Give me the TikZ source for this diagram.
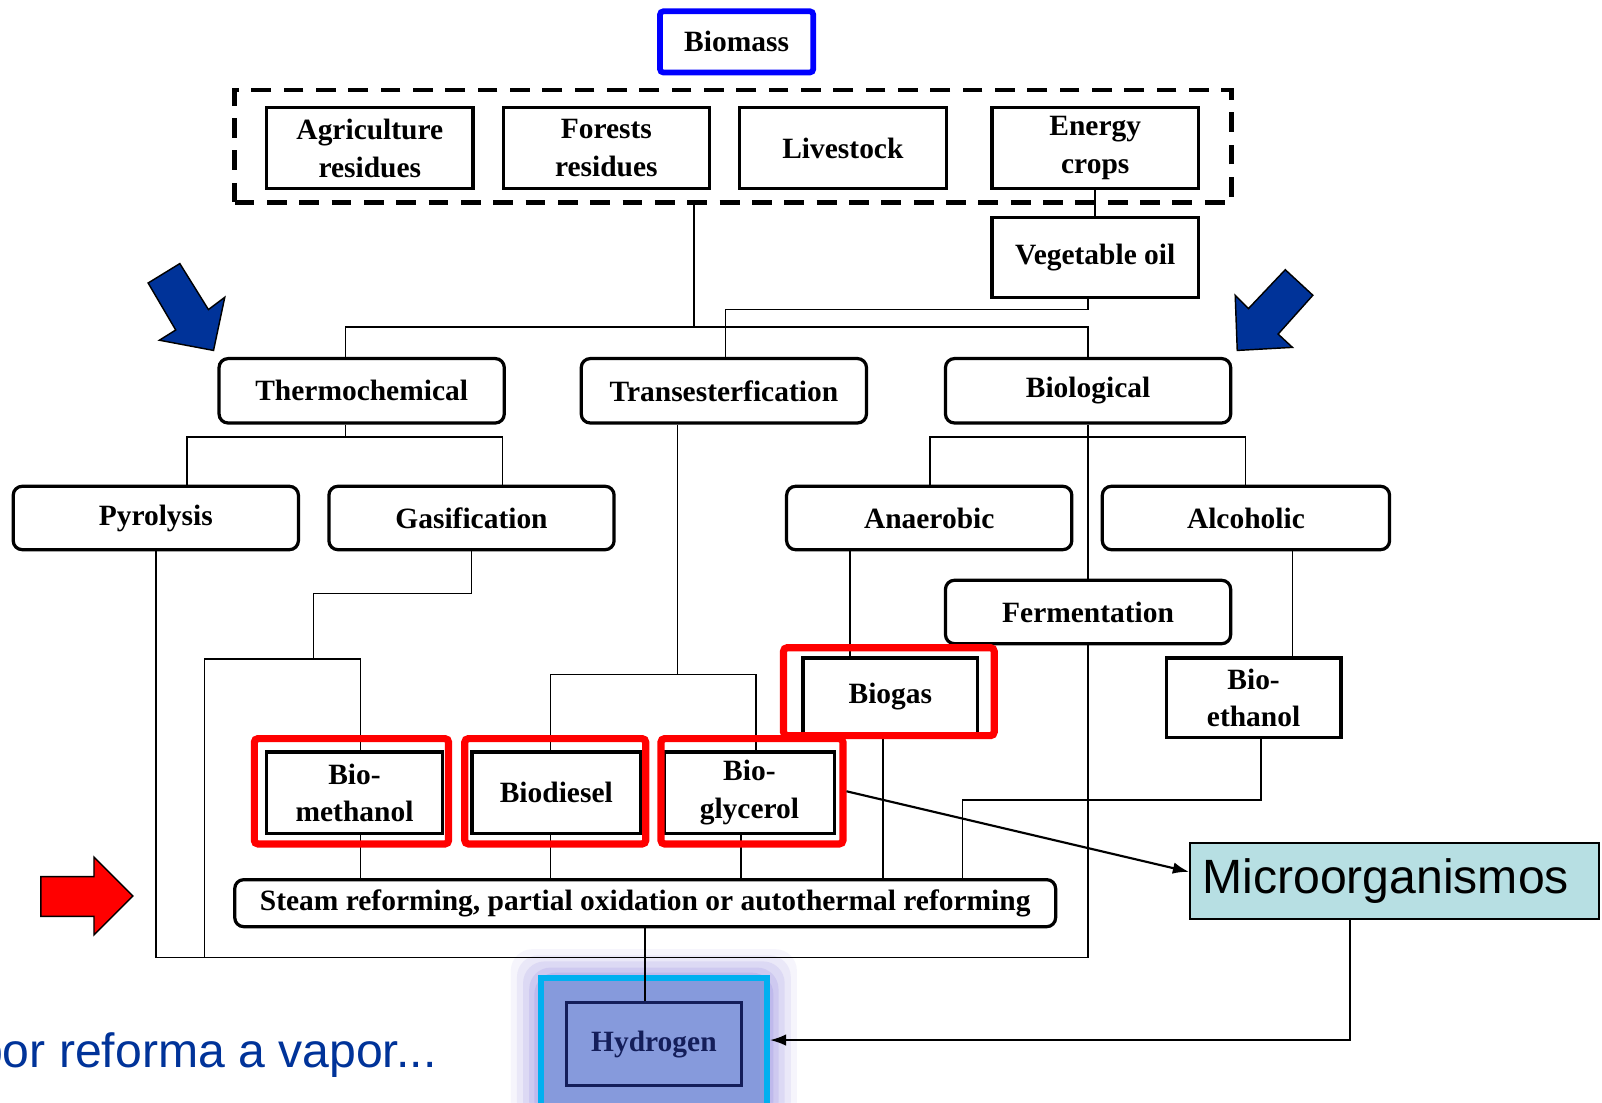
\documentclass[tikz,border=0pt]{standalone}
\usepackage{fontspec}
\setmainfont{Liberation Serif}
\newfontfamily\slidefont{Liberation Sans}
\usetikzlibrary{arrows.meta}
\definecolor{slideblue}{RGB}{0,51,153}
\definecolor{microfill}{RGB}{183,223,227}
\definecolor{hfill}{RGB}{134,154,220}
\definecolor{hglow}{RGB}{150,140,225}
\definecolor{cyanframe}{RGB}{0,176,240}
\definecolor{navy}{RGB}{20,30,90}
\tikzset{
  box/.style={draw, line width=0.9pt, inner sep=0pt, align=center, fill=white,
    font=\fontsize{8.2}{10.5}\selectfont\bfseries},
  rbox/.style={box, rounded corners=2.5pt, minimum width=2.79cm, minimum height=0.63cm},
  sbox/.style={box, minimum width=2.02cm, minimum height=0.79cm},
  pbox/.style={box, minimum width=1.71cm, minimum height=0.80cm},
  hilite/.style={draw=red, line width=2pt, rounded corners=1pt, inner sep=0pt},
  link/.style={line width=0.45pt},
  pointer/.style={line width=0.6pt, -{Latex[length=4.5pt,width=3.2pt]}},
  bigarrow/.style={draw=black, line width=0.4pt}
}
\begin{document}
\begin{tikzpicture}[x=0.01cm,y=-0.01cm]
\clip (0,0) rectangle (1568,1079);
\fill[white] (0,0) rectangle (1568,1079);

\node[box, draw=blue, line width=1.6pt, rounded corners=1pt, minimum width=1.50cm, minimum height=0.60cm] (biomass) at (721,41) {Biomass};
\node[draw, line width=1.3pt, dash pattern=on 5.5pt off 3.5pt, minimum width=9.75cm, minimum height=1.10cm, inner sep=0pt] (srcs) at (717.5,143) {};
\node[sbox] (agri) at (362,145) {Agriculture\\residues};
\node[sbox] (forest) at (593.5,145) {Forests\\residues};
\node[sbox] (live) at (825,145) {Livestock};
\node[sbox] (energy) at (1072,145) {Energy\\crops};
\node[sbox, minimum height=0.78cm] (vegoil) at (1072,252) {Vegetable oil};

\node[rbox] (thermo) at (354,382.5) {Thermochemical};
\node[rbox] (trans) at (708.5,382.5) {Transesterfication};
\node[rbox] (biol) at (1065,382.5) {Biological};
\node[rbox, minimum height=0.62cm] (pyro) at (152.5,507) {Pyrolysis};
\node[rbox, minimum height=0.62cm] (gasif) at (461.5,507) {Gasification};
\node[rbox, minimum height=0.62cm] (anaer) at (909.5,507) {Anaerobic};
\node[rbox, minimum height=0.62cm, minimum width=2.81cm] (alcoh) at (1219.5,507) {Alcoholic};
\node[rbox, minimum height=0.62cm] (ferm) at (1065,599) {Fermentation};

\node[pbox, minimum height=0.75cm] (biogas) at (871.5,681.5) {Biogas};
\node[pbox, minimum height=0.78cm] (bioeth) at (1227,683) {Bio-\\ethanol};
\node[pbox, minimum width=1.72cm] (biometh) at (347,776) {Bio-\\methanol};
\node[pbox, minimum width=1.65cm] (biodies) at (544.5,776) {Biodiesel};
\node[pbox, minimum width=1.67cm] (biogly) at (733.5,776) {Bio-\\glycerol};
\node[box, rounded corners=2.5pt, minimum width=8.03cm, minimum height=0.46cm] (steam) at (631.5,884) {Steam reforming, partial oxidation or autothermal reforming};

\foreach \d/\o in {28/0.08,22/0.12,16/0.16,10/0.2,5/0.26}
  \fill[hglow, opacity=\o, rounded corners=6pt] (528-\d,957-\d) rectangle (752+\d,1100);
\node[draw=cyanframe, line width=1.7pt, fill=hfill, minimum width=2.21cm, minimum height=1.40cm, inner sep=0pt] (hframe) at (640,1027) {};
\node[box, draw=navy, text=navy, fill=hfill, minimum width=1.71cm, minimum height=0.81cm] (hydro) at (640,1022) {Hydrogen};

\node[draw, line width=0.6pt, fill=microfill, minimum width=4.0cm, minimum height=0.74cm, inner sep=0pt, text width=3.76cm, align=left, font=\slidefont\fontsize{13.4}{16}\selectfont] (micro) at (1365,862.5) {Microorganismos};
\node[anchor=base west, inner sep=0pt, text=slideblue, font=\slidefont\fontsize{13.4}{16}\selectfont] (caption) at (-24,1045) {por reforma a vapor...};

\draw[link] (energy.south) -- (vegoil.north);
\coordinate (j1) at (679,320);
\draw[link] (srcs.south -| j1) -- (j1);
\coordinate (j2) at (338,320);
\coordinate (j3) at (1065,320);
\draw[link] (j2 |- thermo.north) -- (j2) -- (j3) -- (biol.north);
\coordinate (j4) at (710,303);
\draw[link] (vegoil.south -| j3) |- (j4) -- (j4 |- trans.north);

\coordinate (j5) at (338,428);
\coordinate (j6) at (183,428);
\coordinate (j7) at (492,428);
\draw[link] (thermo.south -| j5) -- (j5);
\draw[link] (j6 |- pyro.north) -- (j6) -- (j7) -- (j7 |- gasif.north);
\coordinate (j8) at (910,428);
\coordinate (j9) at (1219,428);
\draw[link] (j8 |- anaer.north) -- (j8) -- (j9) -- (j9 |- alcoh.north);
\draw[link] (biol.south) -- (ferm.north);

\coordinate (j10) at (152.5,937);
\draw[link] (pyro.south) -- (j10) -- (j10 -| ferm.south) -- (ferm.south);
\coordinate (j11) at (307,581);
\coordinate (j12) at (200,645);
\coordinate (j13) at (353,645);
\draw[link] (gasif.south) |- (j11) -- (j11 |- j12);
\draw[link] (j12 |- j10) -- (j12) -- (j13) -- (j13 |- biometh.north);
\draw[link] (biometh.south -| j13) -- (steam.north -| j13);

\coordinate (j14) at (663,660);
\coordinate (j15) at (539,660);
\coordinate (j16) at (740,660);
\draw[link] (trans.south -| j14) -- (j14);
\draw[link] (j15 |- biodies.north) -- (j15) -- (j16) -- (j16 |- biogly.north);
\draw[link] (biodies.south -| j15) -- (steam.north -| j15);
\coordinate (j17) at (725,840);
\draw[link] (biogly.south -| j17) -- (steam.north -| j17);

\coordinate (j18) at (832,600);
\draw[link] (anaer.south -| j18) -- (biogas.north -| j18);
\coordinate (j19) at (864,800);
\draw[link] (biogas.south -| j19) -- (steam.north -| j19);
\coordinate (j20) at (1265,600);
\draw[link] (alcoh.south -| j20) -- (bioeth.north -| j20);
\coordinate (j21) at (1234,783);
\coordinate (j22) at (942,783);
\draw[link] (bioeth.south -| j21) -- (j21) -- (j22) -- (j22 |- steam.north);
\draw[link] (steam.south) -- (steam.south |- hydro.north);

\node[hilite, minimum width=1.90cm, minimum height=1.03cm] (rf1) at (344,774.5) {};
\node[hilite, minimum width=1.77cm, minimum height=1.03cm] (rf2) at (543.5,774.5) {};
\node[hilite, minimum width=1.78cm, minimum height=1.03cm] (rf3) at (736,774.5) {};
\node[hilite, minimum width=2.06cm, minimum height=0.86cm] (rf4) at (870,677) {};

\draw[pointer] (rf3.east) -- ([yshift=2.6pt]micro.west);
\coordinate (j23) at (1321,1018);
\draw[pointer] (micro.south -| j23) |- (hframe.east |- j23);

\filldraw[fill=slideblue, bigarrow] (145,277) -- (176,258) -- (204,303) -- (220,291) -- (209,343) -- (156,333) -- (172,323) -- cycle;
\filldraw[fill=slideblue, bigarrow] (1211,343) -- (1209,289) -- (1222,302) -- (1258,264) -- (1285,289) -- (1251,327) -- (1265,340) -- cycle;
\filldraw[fill=red, bigarrow] (40,858) -- (92,858) -- (92,839) -- (130,877) -- (92,915) -- (92,897) -- (40,897) -- cycle;
\end{tikzpicture}
\end{document}
